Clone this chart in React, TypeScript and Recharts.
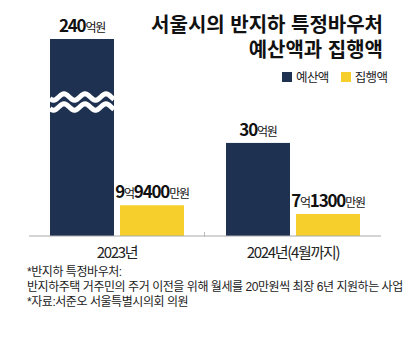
import { BarChart, Bar, XAxis, YAxis, LabelList } from 'recharts';

const categories = ['2023년', '2024년(4월까지)'];
const budget = [240, 30];
const spent = [9.94, 7.13];
const budgetLabels = ['240억원', '30억원'];
const spentLabels = ['9억9400만원', '7억1300만원'];

const NAVY = '#1f3151';
const YELLOW = '#f6cf2c';
const FONT = '"Noto Sans CJK KR", "Noto Sans", sans-serif';
const TEXT_FONT = '"Liberation Sans", "Noto Sans CJK KR", sans-serif';
const Y_MAX = 63.5;
const PLOT_TOP = 39;

const data = categories.map((name, i) => ({
  name,
  budget: budget[i],
  spent: spent[i],
  budgetLabel: budgetLabels[i],
  spentLabel: spentLabels[i],
}));

// 잘린 막대에 물결 표시
function BudgetShape(props: any) {
  const { x, y, width, height, fill, payload } = props;
  const bottom = y + height;
  const rect = <rect x={x} y={y} width={width} height={height} fill={fill} />;
  if (!payload || payload.budget <= Y_MAX) return rect;
  const waves = [139, 129].map((off) => {
    const cy = bottom - off;
    let d = '';
    for (let t = 0; t <= width; t += 1) {
      const py = cy - 3.2 * Math.sin((2 * Math.PI * (t - 8.75)) / 21);
      d += `${t === 0 ? 'M' : 'L'}${x + t},${py.toFixed(2)}`;
    }
    return <path key={off} d={d} stroke="#fff" strokeWidth={5} fill="none" />;
  });
  return (
    <g>
      {rect}
      {waves}
    </g>
  );
}

function ValueLabel(props: any) {
  const { x, y, width, value } = props;
  const top = Math.max(Number(y), PLOT_TOP);
  const parts = String(value).match(/(\d+|\D+)/g) || [];
  return (
    <text
      x={Number(x) + Number(width) / 2}
      y={top - 7}
      textAnchor="middle"
      fontFamily={FONT}
      fill="#111"
      letterSpacing={-1.2}
    >
      {parts.map((p, i) =>
        /\d/.test(p) ? (
          <tspan key={i} fontSize={17} fontWeight={700}>
            {p}
          </tspan>
        ) : (
          <tspan key={i} fontSize={12} fontWeight={400}>
            {p}
          </tspan>
        )
      )}
    </text>
  );
}

function CategoryTick(props: any) {
  const { x, y, payload } = props;
  return (
    <text
      x={x}
      y={y + 14}
      textAnchor="middle"
      fontFamily={FONT}
      fontSize={15}
      letterSpacing={-1.3}
      fill="#222"
    >
      {payload.value}
    </text>
  );
}

export default function App() {
  return (
    <div
      style={{
        position: 'absolute',
        left: 0,
        top: 0,
        width: 420,
        height: 349,
        background: '#fff',
        fontFamily: FONT,
        overflow: 'hidden',
      }}
    >
      <BarChart
        width={420}
        height={270}
        data={data}
        margin={{ top: PLOT_TOP, right: 39, bottom: 4, left: 29 }}
        barCategoryGap={21}
        barGap={6}
      >
        <XAxis
          dataKey="name"
          axisLine={{ stroke: '#aaa' }}
          tickLine={false}
          height={30}
          tick={<CategoryTick />}
        />
        <YAxis hide domain={[0, Y_MAX]} allowDataOverflow />
        <Bar dataKey="budget" fill={NAVY} barSize={64} shape={<BudgetShape />} isAnimationActive={false}>
          <LabelList dataKey="budgetLabel" content={<ValueLabel />} />
        </Bar>
        <Bar dataKey="spent" fill={YELLOW} barSize={64} isAnimationActive={false}>
          <LabelList dataKey="spentLabel" content={<ValueLabel />} />
        </Bar>
      </BarChart>

      <div style={{ position: 'absolute', left: 204, top: 232, width: 1, height: 5, background: '#bbb' }} />

      <div
        style={{
          position: 'absolute',
          right: 37,
          top: 13,
          textAlign: 'right',
          fontFamily: TEXT_FONT,
          fontSize: 20,
          fontWeight: 700,
          lineHeight: '25px',
          letterSpacing: 0,
          color: '#111',
          whiteSpace: 'nowrap',
        }}
      >
        <div>서울시의 반지하 특정바우처</div>
        <div>예산액과 집행액</div>
      </div>

      <div
        style={{
          position: 'absolute',
          left: 282,
          top: 69,
          display: 'flex',
          alignItems: 'center',
          fontSize: 12.5,
          letterSpacing: -0.6,
          color: '#222',
          lineHeight: '16px',
          whiteSpace: 'nowrap',
        }}
      >
        <span style={{ width: 10, height: 10, background: NAVY, display: 'inline-block', marginRight: 4 }} />
        <span style={{ marginRight: 12 }}>예산액</span>
        <span style={{ width: 10, height: 10, background: YELLOW, display: 'inline-block', marginRight: 4 }} />
        <span>집행액</span>
      </div>

      <div
        style={{
          position: 'absolute',
          left: 27,
          top: 265,
          fontFamily: TEXT_FONT,
          fontSize: 12,
          lineHeight: '15px',
          letterSpacing: -0.45,
          color: '#222',
          whiteSpace: 'nowrap',
        }}
      >
        <div>*반지하 특정바우처:</div>
        <div>반지하주택 거주민의 주거 이전을 위해 월세를 20만원씩 최장 6년 지원하는 사업</div>
        <div>*자료:서준오 서울특별시의회 의원</div>
      </div>
    </div>
  );
}
